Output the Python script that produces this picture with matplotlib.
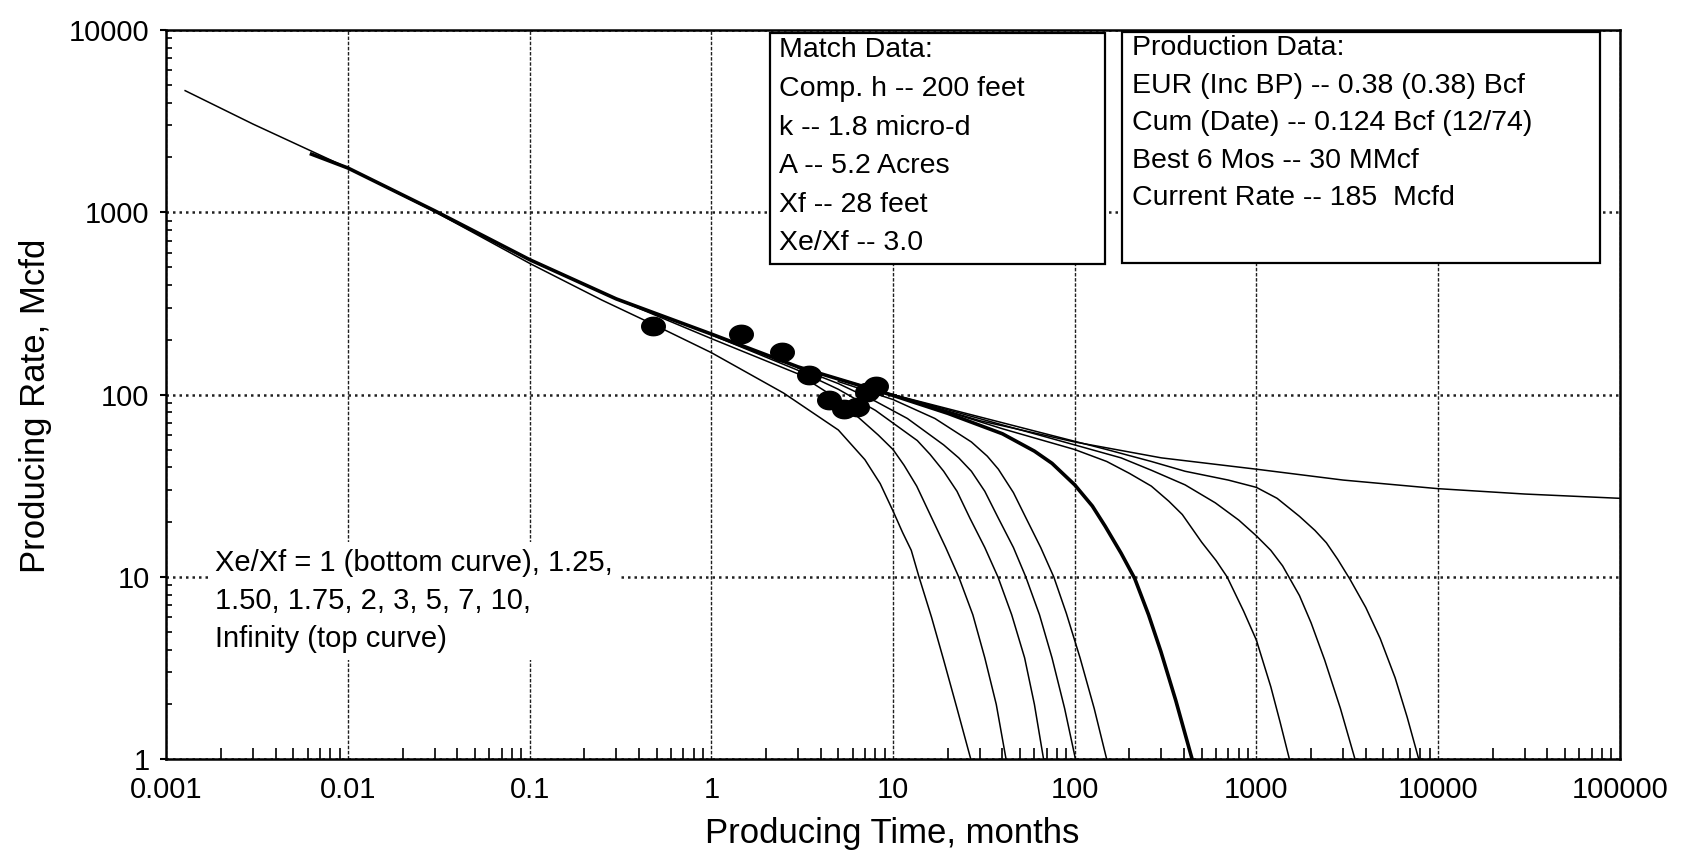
import numpy as np
import matplotlib.pyplot as plt
from matplotlib.ticker import FixedLocator, FixedFormatter, LogLocator, NullFormatter
from matplotlib.patches import Rectangle
from matplotlib.path import Path

plt.rcParams['font.family'] = ['Liberation Sans', 'DejaVu Sans']

# ─── Data ────────────────────────────────────────────────────────────────────
# type curves, producing time (months) vs producing rate (Mcfd)
t_inf = [0.00127, 0.003, 0.01, 0.03, 0.1, 0.3, 1, 3, 10, 30, 100, 300, 1000, 3000, 10000, 30000, 100000]
q_inf = [4650, 3050, 1750, 1020, 550, 335, 215, 142, 100, 72, 55, 45, 39, 34, 30.5, 28.5, 27]

t_10 = [10, 150, 264, 405, 700, 1000, 1300, 1726, 2100, 2427, 2800, 3275, 4000, 4800, 5800, 6760, 7830]
q_10 = [100, 50, 43, 38, 34, 31, 27, 21.5, 18, 15.4, 12.5, 9.7, 6.8, 4.6, 2.8, 1.7, 1]

t_7 = [10, 100, 180, 264, 405, 594, 800, 1000, 1200, 1394, 1726, 2000, 2376, 2900, 3490]
q_7 = [100, 53, 45, 38.5, 32, 25.5, 20.5, 16.8, 14, 11.5, 7.9, 5.6, 3.5, 1.9, 1]

t_5 = [10, 40, 100, 150, 200, 264, 330, 391, 500, 600, 690, 850, 1000, 1200, 1350, 1520]
q_5 = [100, 65, 50, 43, 37, 31.5, 26, 22, 15.5, 12.3, 10, 6.5, 4.5, 2.5, 1.6, 1]

# Xe/Xf = 3 is the matched curve (drawn heavy)
t_3 = [0.0063, 0.01, 0.03, 0.1, 0.3, 1, 3, 10, 20, 40, 60, 75, 100, 125, 147, 180, 214, 255, 298, 360, 443]
q_3 = [2085, 1750, 1020, 550, 335, 215, 142, 99, 79, 61, 49, 42, 32, 24.5, 19, 13.5, 9.8, 6.2, 3.9, 2.1, 1]

t_2 = [5, 10, 17, 27, 33, 38, 46, 54, 65, 76.7, 90, 107, 128, 150]
q_2 = [118, 94, 74, 55, 46, 39, 29, 21, 14.5, 10, 6.3, 3.6, 1.9, 1]

t_175 = [3, 5, 8, 12, 19, 23, 27, 32, 38, 46, 53.8, 64, 75, 88, 101]
q_175 = [140, 115, 92, 74, 53, 45, 38, 29.5, 21, 14.5, 10, 6.2, 3.6, 1.9, 1]

t_15 = [1, 3, 5, 8, 13.6, 16, 19, 22.5, 26.5, 32, 37.8, 45, 53, 60, 67.4]
q_15 = [213, 136, 107, 82, 56, 47, 38, 29.5, 21, 14.5, 10, 6.2, 3.6, 2, 1]

t_125 = [0.3, 1, 3, 5, 8.3, 10, 11.5, 13.5, 16, 19.5, 23, 27.5, 32, 37, 41.9]
q_125 = [335, 203, 130, 94, 60, 50, 41, 31.5, 22, 14.5, 10, 6.2, 3.6, 2, 1]

t_1 = [0.01, 0.03, 0.1, 0.25, 0.5, 1, 2.5, 5, 7, 8.5, 10, 11.3, 12.6, 13.9, 16.3, 19, 22.5, 26.8]
q_1 = [1750, 1010, 525, 330, 238, 170, 102, 64, 44, 32.5, 23, 17.5, 14, 10, 6, 3.5, 1.9, 1]

# production history points
t_prod = [0.48, 1.45, 2.45, 3.45, 4.45, 5.35, 6.35, 7.2, 8.1]
q_prod = [238, 216, 172, 128, 93, 83, 86, 103, 111]

x_ticks = [0.001, 0.01, 0.1, 1, 10, 100, 1000, 10000, 100000]
x_labels = ["0.001", "0.01", "0.1", "1", "10", "100", "1000", "10000", "100000"]
y_ticks = [1, 10, 100, 1000, 10000]
y_labels = ["1", "10", "100", "1000", "10000"]

match_lines = ["Match Data:", "Comp. h -- 200 feet", "k -- 1.8 micro-d",
               "A -- 5.2 Acres", "Xf -- 28 feet", "Xe/Xf -- 3.0"]
prod_lines = ["Production Data:", "EUR (Inc BP) -- 0.38 (0.38) Bcf",
              "Cum (Date) -- 0.124 Bcf (12/74)", "Best 6 Mos -- 30 MMcf",
              "Current Rate -- 185  Mcfd"]
note = "Xe/Xf = 1 (bottom curve), 1.25,\n1.50, 1.75, 2, 3, 5, 7, 10,\nInfinity (top curve)"

# ─── Figure ─────────────────────────────────────────────────────────────────
W, H = 1568, 801   # layout measured on the reduced scan


def fx(px):
    return px / W


def fy(py):
    return 1 - py / H


fig = plt.figure(figsize=(16.82, 8.59), dpi=100)
ax = fig.add_axes([fx(155), fy(708), fx(1510) - fx(155), fy(28) - fy(708)])
ax.set_xscale('log')
ax.set_yscale('log')
ax.set_xlim(0.001, 100000)
ax.set_ylim(1, 10000)

thin = dict(color='black', lw=1.1, zorder=4)
for t, q in [(t_inf, q_inf), (t_10, q_10), (t_7, q_7), (t_5, q_5), (t_2, q_2),
             (t_175, q_175), (t_15, q_15), (t_125, q_125), (t_1, q_1)]:
    ax.plot(t, q, **thin)
ax.plot(t_3, q_3, color='black', lw=2.6, zorder=5)

theta = np.linspace(0, 2 * np.pi, 41)
ellipse = Path(np.column_stack([np.cos(theta), 0.78 * np.sin(theta)]))
ax.plot(t_prod, q_prod, ls='none', marker=ellipse, ms=17, color='black', zorder=6)

# axes, ticks, grid
ax.xaxis.set_major_locator(FixedLocator(x_ticks))
ax.xaxis.set_major_formatter(FixedFormatter(x_labels))
ax.yaxis.set_major_locator(FixedLocator(y_ticks))
ax.yaxis.set_major_formatter(FixedFormatter(y_labels))
ax.xaxis.set_minor_locator(LogLocator(base=10, subs=np.arange(2, 10), numticks=20))
ax.yaxis.set_minor_locator(LogLocator(base=10, subs=np.arange(2, 10), numticks=20))
ax.xaxis.set_minor_formatter(NullFormatter())
ax.yaxis.set_minor_formatter(NullFormatter())

ax.tick_params(axis='x', which='major', length=0, pad=12, labelsize=21)
ax.tick_params(axis='y', which='major', length=4, direction='out', width=1.5, pad=8, labelsize=21)
ax.tick_params(axis='x', which='minor', length=8, direction='in', width=1.2)
ax.tick_params(axis='y', which='minor', length=4, direction='in', width=1.2)

ax.xaxis.grid(True, which='major', ls=(0, (2.5, 1.2)), lw=1.0, color='#202020', zorder=1)
ax.yaxis.grid(True, which='major', ls=(0, (1, 1.6)), lw=1.8, color='#202020', zorder=1)
ax.set_axisbelow(True)
for s in ax.spines.values():
    s.set_linewidth(1.8)

# info boxes (white fill hides the grid)
def box(x0, y0, x1, y1):
    a0 = (x0 - 155) / 1355
    a1 = (x1 - 155) / 1355
    b0 = (708 - y1) / 680
    b1 = (708 - y0) / 680
    ax.add_patch(Rectangle((a0, b0), a1 - a0, b1 - b0, transform=ax.transAxes,
                           fc='white', ec='black', lw=1.6, zorder=7))


box(718, 31, 1030, 246)
box(1046, 30, 1492, 245)

for i, s in enumerate(match_lines):
    fig.text(fx(726), fy(47 + 36 * i), s, fontsize=20.5, va='center', ha='left')
for i, s in enumerate(prod_lines):
    fig.text(fx(1055), fy(45 + 35 * i), s, fontsize=20.5, va='center', ha='left')

ax.text(0.00185, 14.2, note, fontsize=21, va='top', ha='left', linespacing=1.46,
        zorder=7, bbox=dict(fc='white', ec='none', pad=5))

fig.text(fx(832), fy(777), "Producing Time, months", fontsize=25, ha='center', va='center')
fig.text(fx(33), fy(378), "Producing Rate, Mcfd", fontsize=25, ha='center', va='center',
         rotation=90)

plt.savefig("out.png", dpi=100)
plt.close()
